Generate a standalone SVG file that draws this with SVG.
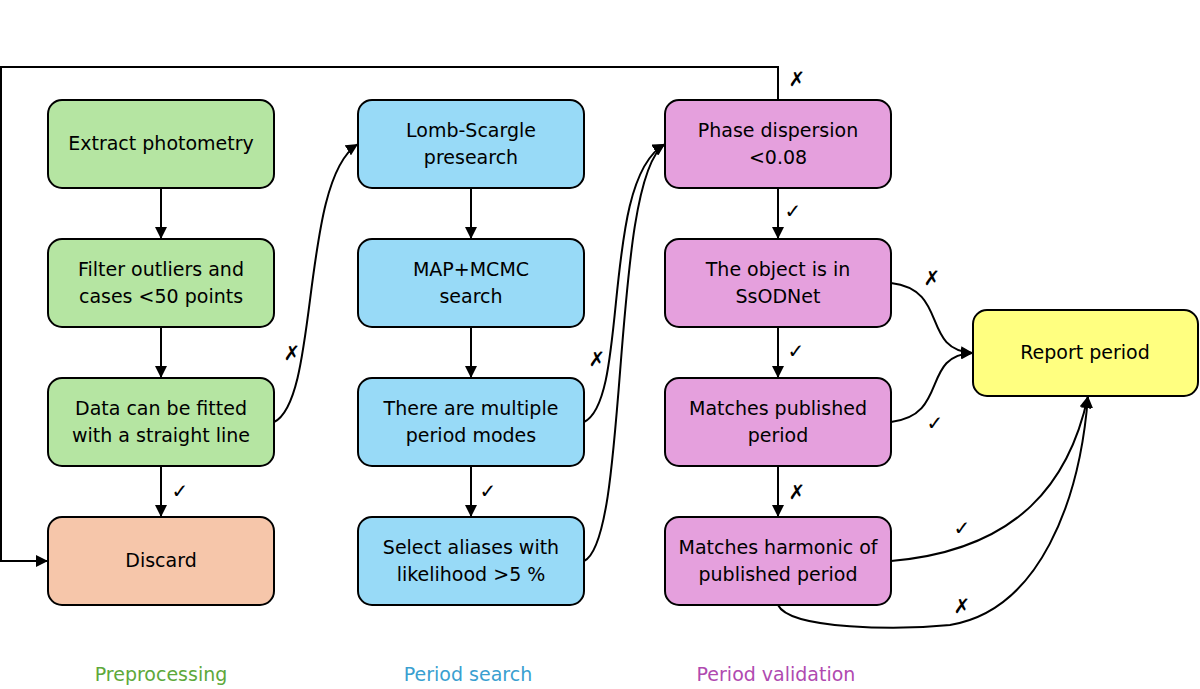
<svg xmlns="http://www.w3.org/2000/svg" width="1200" height="689" viewBox="0 0 1200 689">
<style>
.b{stroke:#000;stroke-width:2}
.g{fill:#b5e5a2}.bl{fill:#98daf7}.p{fill:#e5a0dd}.o{fill:#f6c6aa}.y{fill:#ffff80}
text{font-family:"DejaVu Sans","Liberation Sans",sans-serif;font-size:19px;text-anchor:middle;fill:#000}
.c path{fill:none;stroke:#000;stroke-width:2}
.m{font-size:20px}
</style>
<defs><marker id="a" viewBox="0 0 10 10" refX="10" refY="5" markerWidth="6" markerHeight="6" orient="auto"><path d="M0,0L10,5L0,10z" fill="#000"/></marker></defs>
<g id="n1"><rect class="b g" x="48" y="100" width="226" height="88" rx="14"/><text x="161" y="150">Extract photometry</text></g>
<g id="n2"><rect class="b g" x="48" y="239" width="226" height="88" rx="14"/><text x="161" y="276">Filter outliers and</text><text x="161" y="303">cases &lt;50 points</text></g>
<g id="n3"><rect class="b g" x="48" y="378" width="226" height="88" rx="14"/><text x="161" y="415">Data can be fitted</text><text x="161" y="442">with a straight line</text></g>
<g id="n4"><rect class="b o" x="48" y="517" width="226" height="88" rx="14"/><text x="161" y="567">Discard</text></g>
<g id="n5"><rect class="b bl" x="358" y="100" width="226" height="88" rx="14"/><text x="471" y="137">Lomb-Scargle</text><text x="471" y="164">presearch</text></g>
<g id="n6"><rect class="b bl" x="358" y="239" width="226" height="88" rx="14"/><text x="471" y="276">MAP+MCMC</text><text x="471" y="303">search</text></g>
<g id="n7"><rect class="b bl" x="358" y="378" width="226" height="88" rx="14"/><text x="471" y="415">There are multiple</text><text x="471" y="442">period modes</text></g>
<g id="n8"><rect class="b bl" x="358" y="517" width="226" height="88" rx="14"/><text x="471" y="554">Select aliases with</text><text x="471" y="581">likelihood &gt;5 %</text></g>
<g id="n9"><rect class="b p" x="665" y="100" width="226" height="88" rx="14"/><text x="778" y="137">Phase dispersion</text><text x="778" y="164">&lt;0.08</text></g>
<g id="n10"><rect class="b p" x="665" y="239" width="226" height="88" rx="14"/><text x="778" y="276">The object is in</text><text x="778" y="303">SsODNet</text></g>
<g id="n11"><rect class="b p" x="665" y="378" width="226" height="88" rx="14"/><text x="778" y="415">Matches published</text><text x="778" y="442">period</text></g>
<g id="n12"><rect class="b p" x="665" y="517" width="226" height="88" rx="14"/><text x="778" y="554">Matches harmonic of</text><text x="778" y="581">published period</text></g>
<g id="n13"><rect class="b y" x="973" y="310" width="225" height="86" rx="14"/><text x="1085" y="359">Report period</text></g>
<g class="c">
<path d="M161,188V239" marker-end="url(#a)"/><path d="M161,327V378" marker-end="url(#a)"/><path d="M161,466V517" marker-end="url(#a)"/>
<path d="M471,188V239" marker-end="url(#a)"/><path d="M471,327V378" marker-end="url(#a)"/><path d="M471,466V517" marker-end="url(#a)"/>
<path d="M778,188V239" marker-end="url(#a)"/><path d="M778,327V378" marker-end="url(#a)"/><path d="M778,466V517" marker-end="url(#a)"/>
<path d="M274,422C320,400 300,180 358,144" marker-end="url(#a)"/>
<path d="M584,422C630,400 600,180 665,144" marker-end="url(#a)"/>
<path d="M584,561C630,540 610,180 665,144" marker-end="url(#a)"/>
<path d="M778,100V67H1V561H48" marker-end="url(#a)"/>
<path d="M891,283C950,290 920,350 973,353" marker-end="url(#a)"/>
<path d="M891,422C950,415 920,355 973,353" marker-end="url(#a)"/>
<path d="M891,561C1020,550 1070,480 1088,396" marker-end="url(#a)"/>
<path d="M778,605C790,630 900,630 950,625C1040,610 1080,500 1088,396" marker-end="url(#a)"/>
</g>
<g id="labels">
<text class="m" x="292" y="360">✗</text><text class="m" x="180" y="498">✓</text>
<text class="m" x="597" y="366">✗</text><text class="m" x="488" y="498">✓</text>
<text class="m" x="797" y="86">✗</text><text class="m" x="793" y="218">✓</text>
<text class="m" x="932" y="285">✗</text><text class="m" x="796" y="358">✓</text>
<text class="m" x="797" y="499">✗</text><text class="m" x="935" y="430">✓</text>
<text class="m" x="962" y="535">✓</text><text class="m" x="962" y="613">✗</text>
</g>
<text x="161" y="681" style="fill:#5ea83a">Preprocessing</text>
<text x="468" y="681" style="fill:#3a9fd0">Period search</text>
<text x="776" y="681" style="fill:#b04ab0">Period validation</text>
</svg>
